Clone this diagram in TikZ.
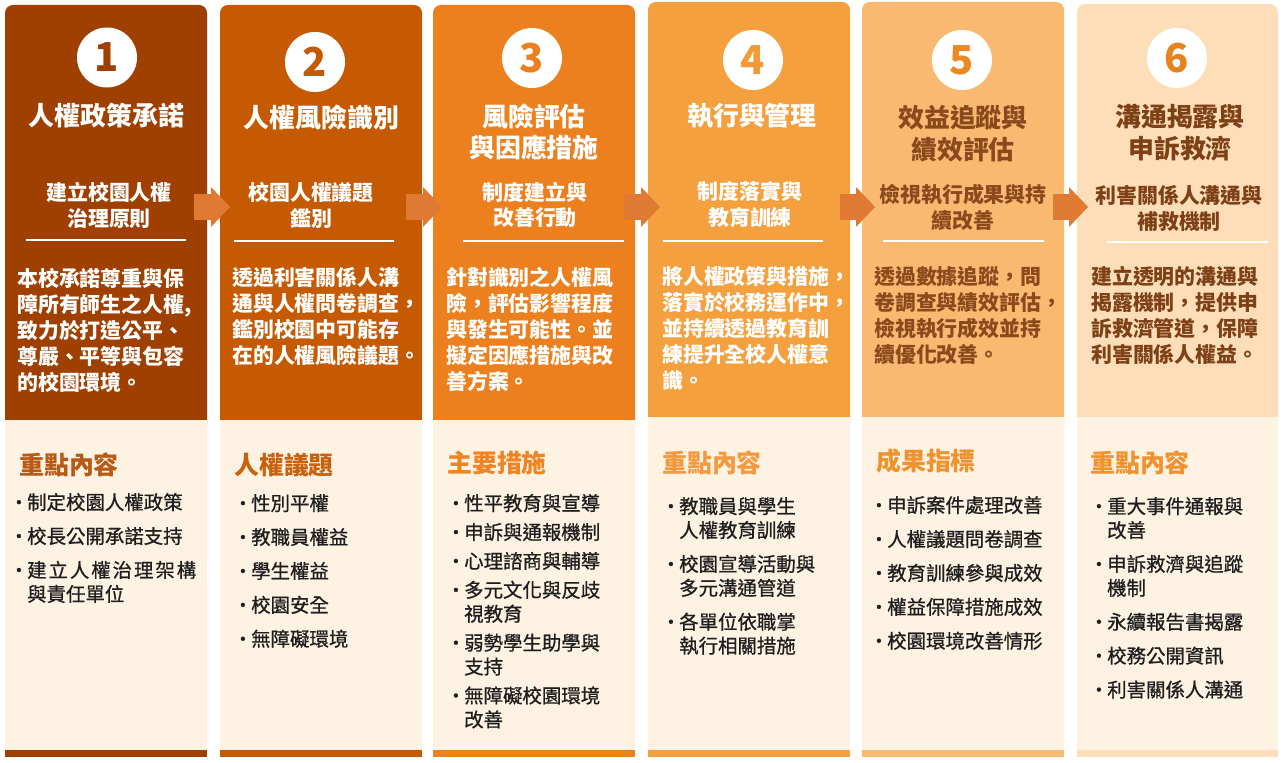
\documentclass[tikz,border=0pt]{standalone}
\usepackage{fontspec}
\setmainfont{Noto Sans CJK TC}
\newfontfamily\itemfont{Noto Sans CJK TC}[FakeBold=0.8]
\usetikzlibrary{arrows.meta}
\definecolor{stageone}{HTML}{9F4000}
\definecolor{stagetwo}{HTML}{C55A02}
\definecolor{stagethree}{HTML}{EC801E}
\definecolor{stagefour}{HTML}{F5A03E}
\definecolor{stagefive}{HTML}{F9B970}
\definecolor{stagesix}{HTML}{FDDEB9}
\definecolor{cream}{HTML}{FEF2E3}
\definecolor{arrowfill}{HTML}{E07A32}
\definecolor{browntext}{HTML}{8A4A1E}
\definecolor{darkbrown}{HTML}{7D4017}
\definecolor{itemgray}{HTML}{1E1E1E}
\definecolor{headone}{HTML}{B65A14}
\definecolor{headtwo}{HTML}{C8620E}
\definecolor{headthree}{HTML}{EE8424}
\definecolor{headfour}{HTML}{F4993E}
\definecolor{headfive}{HTML}{F0922E}
\definecolor{digitfour}{HTML}{F29A35}
\definecolor{digitfive}{HTML}{EC8A22}
\definecolor{digitsix}{HTML}{E8821E}
\tikzset{
  numdisc/.style={circle,fill=white,minimum size=60bp,inner sep=0pt,font=\bfseries\fontsize{40}{40}\selectfont},
  titletext/.style={align=center,font=\bfseries\fontsize{26}{32}\selectfont},
  subtext/.style={align=center,font=\bfseries\fontsize{21}{26}\selectfont},
  bodytext/.style={anchor=north west,inner sep=0pt,font=\bfseries\fontsize{21}{26}\selectfont},
  headtext/.style={anchor=west,inner sep=0pt,font=\bfseries\fontsize{25}{30}\selectfont},
  itemtext/.style={anchor=north west,inner sep=0pt,text=itemgray,font=\itemfont\fontsize{19.5}{24}\selectfont},
  flowarrow/.style={draw=arrowfill,line width=26bp,-{Triangle[length=19bp 0 0,width=40bp 0 0,line width=0bp 0 0]}},
  rule/.style={white,line width=2bp},
}
\newcommand\bul{\makebox[12bp][l]{\hspace{-6bp}·}}
\begin{document}
\begin{tikzpicture}
\useasboundingbox (0,0) rectangle (1286bp,763bp);
\fill[white] (0,0) rectangle (1286bp,763bp);
%%
  % Node: S1
\begin{scope}
  \fill[stageone,rounded corners=8bp] (5bp,330bp) rectangle (207bp,758bp);
  \fill[cream] (5bp,13bp) rectangle (207bp,343bp);
  \fill[stageone] (5bp,6bp) rectangle (207bp,13bp);
  \node[numdisc,text=stageone] (N1) at (107bp,705.5bp) {1};
  \node[titletext,text=white] (T1) at (106.5bp,647bp) {人權政策承諾};
  \node[subtext,text=white] (U1) at (109bp,558bp) {建立校園人權\\治理原則};
  \draw[rule] (26bp,523bp) -- (186bp,523bp);
  \node[bodytext,text=white] (B1) at (17bp,495bp) {\begin{tabular}{@{}l@{}}
    本校承諾尊重與保\\障所有師生之人權,\\致力於打造公平、\\尊嚴、平等與包容\\的校園環境。\end{tabular}};
  \node[headtext,text=headone] (H1) at (19bp,298bp) {重點內容};
  \node[itemtext] (I1) at (15bp,270.4bp) {\begin{tabular}{@{}l@{}l@{}}
    \bul&制定校園人權政策\\[10bp]
    \bul&校長公開承諾支持\\[10bp]
    \bul&{\addfontfeature{LetterSpace=10}建立人權治理架構}\\
    &與責任單位\end{tabular}};
\end{scope}
  % Node: S2
\begin{scope}
  \fill[stagetwo,rounded corners=8bp] (220bp,330bp) rectangle (422bp,758bp);
  \fill[cream] (220bp,13bp) rectangle (422bp,343bp);
  \fill[stagetwo] (220bp,6bp) rectangle (422bp,13bp);
  \node[numdisc,text=stagetwo] (N2) at (315bp,701bp) {2};
  \node[titletext,text=white] (T2) at (321.5bp,645bp) {人權風險識別};
  \node[subtext,text=white] (U2) at (311bp,558bp) {校園人權議題\\鑑別};
  \draw[rule] (234bp,522bp) -- (394bp,522bp);
  \node[bodytext,text=white] (B2) at (232bp,496bp) {\begin{tabular}{@{}l@{}}
    透過利害關係人溝\\通與人權問卷調查，\\鑑別校園中可能存\\在的人權風險議題。\end{tabular}};
  \node[headtext,text=headtwo] (H2) at (234bp,298bp) {人權議題};
  \node[itemtext] (I2) at (239bp,269.4bp) {\begin{tabular}{@{}l@{}l@{}}
    \bul&性別平權\\[10bp]
    \bul&教職員權益\\[10bp]
    \bul&學生權益\\[10bp]
    \bul&校園安全\\[10bp]
    \bul&無障礙環境\end{tabular}};
\end{scope}
  % Node: S3
\begin{scope}
  \fill[stagethree,rounded corners=8bp] (433bp,330bp) rectangle (635bp,758bp);
  \fill[cream] (433bp,13bp) rectangle (635bp,343bp);
  \fill[stagethree] (433bp,6bp) rectangle (635bp,13bp);
  \node[numdisc,text=stagethree] (N3) at (532bp,705bp) {3};
  \node[titletext,text=white] (T3) at (534bp,631bp) {風險評估\\與因應措施};
  \node[subtext,text=white] (U3) at (535bp,558bp) {制度建立與\\改善行動};
  \draw[rule] (463bp,522bp) -- (624bp,522bp);
  \node[bodytext,text=white] (B3) at (446bp,496bp) {\begin{tabular}{@{}l@{}}
    針對識別之人權風\\險，評估影響程度\\與發生可能性。並\\擬定因應措施與改\\善方案。\end{tabular}};
  \node[headtext,text=headthree] (H3) at (447bp,300bp) {主要措施};
  \node[itemtext] (I3) at (452bp,269.4bp) {\begin{tabular}{@{}l@{}l@{}}
    \bul&性平教育與宣導\\[5bp]
    \bul&申訴與通報機制\\[5bp]
    \bul&心理諮商與輔導\\[5bp]
    \bul&多元文化與反歧\\
    &視教育\\[5bp]
    \bul&弱勢學生助學與\\
    &支持\\[5bp]
    \bul&無障礙校園環境\\
    &改善\end{tabular}};
\end{scope}
  % Node: S4
\begin{scope}
  \fill[stagefour,rounded corners=8bp] (648bp,330bp) rectangle (850bp,761bp);
  \fill[cream] (648bp,13bp) rectangle (850bp,346bp);
  \fill[stagefour] (648bp,6bp) rectangle (850bp,13bp);
  \node[numdisc,text=digitfour] (N4) at (753bp,703bp) {4};
  \node[titletext,text=white] (T4) at (752bp,647bp) {執行與管理};
  \node[subtext,text=white] (U4) at (750bp,558bp) {制度落實與\\教育訓練};
  \draw[rule] (663bp,522bp) -- (823bp,522bp);
  \node[bodytext,text=white] (B4) at (662bp,497bp) {\begin{tabular}{@{}l@{}}
    將人權政策與措施，\\落實於校務運作中，\\並持續透過教育訓\\練提升全校人權意\\識。\end{tabular}};
  \node[headtext,text=headfour] (H4) at (662bp,300bp) {重點內容};
  \node[itemtext] (I4) at (667bp,266.4bp) {\begin{tabular}{@{}l@{}l@{}}
    \bul&教職員與學生\\
    &人權教育訓練\\[10bp]
    \bul&校園宣導活動與\\
    &多元溝通管道\\[10bp]
    \bul&各單位依職掌\\
    &執行相關措施\end{tabular}};
\end{scope}
  % Node: S5
\begin{scope}
  \fill[stagefive,rounded corners=8bp] (862bp,330bp) rectangle (1064bp,761bp);
  \fill[cream] (862bp,13bp) rectangle (1064bp,346bp);
  \fill[stagefive] (862bp,6bp) rectangle (1064bp,13bp);
  \node[numdisc,text=digitfive] (N5) at (962bp,703bp) {5};
  \node[titletext,text=browntext] (T5) at (963bp,629bp) {效益追蹤與\\績效評估};
  \node[subtext,text=browntext] (U5) at (963bp,555.5bp) {檢視執行成果與持\\續改善};
  \draw[rule] (883bp,522bp) -- (1044bp,522bp);
  \node[bodytext,text=browntext] (B5) at (874bp,497bp) {\begin{tabular}{@{}l@{}}
    透過數據追蹤，問\\卷調查與績效評估，\\檢視執行成效並持\\續優化改善。\end{tabular}};
  \node[headtext,text=headfive] (H5) at (876bp,302bp) {成果指標};
  \node[itemtext] (I5) at (875bp,267.4bp) {\begin{tabular}{@{}l@{}l@{}}
    \bul&申訴案件處理改善\\[10bp]
    \bul&人權議題問卷調查\\[10bp]
    \bul&教育訓練參與成效\\[10bp]
    \bul&權益保障措施成效\\[10bp]
    \bul&校園環境改善情形\end{tabular}};
\end{scope}
  % Node: S6
\begin{scope}
  \fill[stagesix,rounded corners=8bp] (1077bp,330bp) rectangle (1278bp,759bp);
  \fill[cream] (1077bp,13bp) rectangle (1278bp,346bp);
  \fill[stagesix] (1077bp,6bp) rectangle (1278bp,13bp);
  \node[numdisc,text=digitsix] (N6) at (1177bp,705bp) {6};
  \node[titletext,text=darkbrown] (T6) at (1180bp,630.5bp) {溝通揭露與\\申訴救濟};
  \node[subtext,text=darkbrown] (U6) at (1179bp,555bp) {利害關係人溝通與\\補救機制};
  \draw[rule] (1107bp,521bp) -- (1268bp,521bp);
  \node[bodytext,text=darkbrown] (B6) at (1091bp,497bp) {\begin{tabular}{@{}l@{}}
    建立透明的溝通與\\揭露機制，提供申\\訴救濟管道，保障\\利害關係人權益。\end{tabular}};
  \node[headtext,text=headfive] (H6) at (1090bp,300bp) {重點內容};
  \node[itemtext] (I6) at (1095bp,266.4bp) {\begin{tabular}{@{}l@{}l@{}}
    \bul&重大事件通報與\\
    &改善\\[10bp]
    \bul&申訴救濟與追蹤\\
    &機制\\[10bp]
    \bul&永續報告書揭露\\[10bp]
    \bul&校務公開資訊\\[10bp]
    \bul&利害關係人溝通\end{tabular}};
\end{scope}
%
  % Edge: S1 -> S2
  \coordinate (A1) at (194bp,556bp);
  \coordinate (Z1) at (230bp,556bp);
  \draw[flowarrow] (A1) -- (Z1);
  % Edge: S2 -> S3
  \coordinate (A2) at (406bp,556bp);
  \coordinate (Z2) at (442bp,556bp);
  \draw[flowarrow] (A2) -- (Z2);
  % Edge: S3 -> S4
  \coordinate (A3) at (624bp,556bp);
  \coordinate (Z3) at (660bp,556bp);
  \draw[flowarrow] (A3) -- (Z3);
  % Edge: S4 -> S5
  \coordinate (A4) at (840bp,556bp);
  \coordinate (Z4) at (875bp,556bp);
  \draw[flowarrow] (A4) -- (Z4);
  % Edge: S5 -> S6
  \coordinate (A5) at (1053bp,556bp);
  \coordinate (Z5) at (1088bp,556bp);
  \draw[flowarrow] (A5) -- (Z5);
%
\end{tikzpicture}
\end{document}
